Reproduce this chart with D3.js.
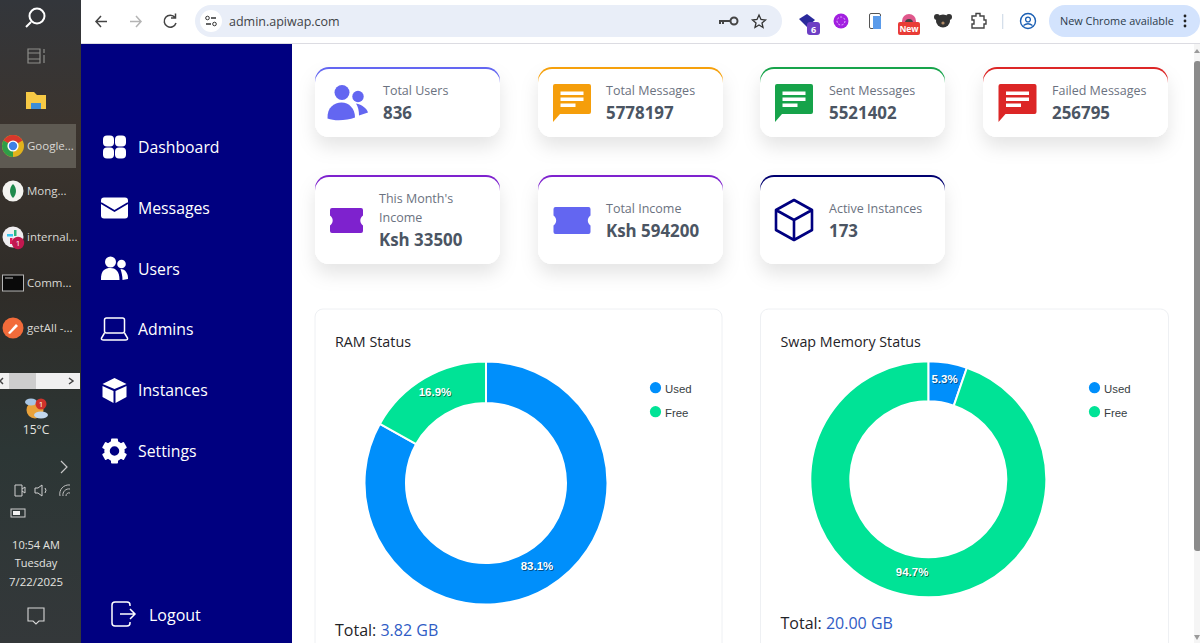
<!DOCTYPE html>
<html lang="en">
<head>
<meta charset="utf-8">
<script src="https://d3js.org/d3.v7.min.js"></script>
<style>
  html, body { margin: 0; padding: 0; background: #fff; overflow: hidden; }
  svg { display: block; }
  text { font-family: "Open Sans", "Noto Sans", sans-serif; }
</style>
</head>
<body>
<svg id="page" width="1200" height="643"></svg>

<script>
// values
const navLabels = ["Dashboard", "Messages", "Users", "Admins", "Instances", "Settings"];
const cardLabels = ["Total Users", "Total Messages", "Sent Messages", "Failed Messages", "This Month's|Income", "Total Income", "Active Instances"];
const cardValues = ["836", "5778197", "5521402", "256795", "Ksh 33500", "Ksh 594200", "173"];
const cardColors = ["#6366f1", "#f59e0b", "#16a34a", "#dc2626", "#7e22ce", "#6366f1", "#000080"];
const cardAccents = ["#6366f1", "#f5a00b", "#16a34a", "#dc2626", "#7e22ce", "#7e22ce", "#000070"];
const cardIcons = ["users", "msg", "msg", "msg", "ticket", "ticket", "box"];
const taskLabels = ["Google...", "Mong...", "internal...", "Comm...", "getAll -..."];

const sliceLabels = ["Used", "Free"];
const sliceColors = ["#008ffb", "#00e396"];
const ramValues = [83.1, 16.9];
const swapValues = [5.3, 94.7];
const ramTotal = "3.82 GB";
const swapTotal = "20.00 GB";

const svg = d3.select("#page");
const defs = svg.append("defs");

const shadow = defs.append("filter").attr("id", "cardShadow")
  .attr("x", "-20%").attr("y", "-20%").attr("width", "140%").attr("height", "180%");
shadow.append("feDropShadow").attr("dx", 0).attr("dy", 10).attr("stdDeviation", 9)
  .attr("flood-color", "#000").attr("flood-opacity", 0.1);

const grad = defs.append("linearGradient").attr("id", "taskbar")
  .attr("x1", 0).attr("y1", 0).attr("x2", 0).attr("y2", 1);
[[0, "#33363b"], [0.2, "#3b342e"], [0.45, "#2f2c28"], [0.7, "#2c3635"], [1, "#34383a"]]
  .forEach(d => grad.append("stop").attr("offset", d[0]).attr("stop-color", d[1]));

function label(g, x, y, str, size, fill, extra) {
  const t = g.append("text").attr("x", x).attr("y", y).text(str)
    .attr("font-size", size).attr("fill", fill);
  if (extra) Object.keys(extra).forEach(k => t.attr(k, extra[k]));
  return t;
}

function icon(x, y) {
  return svg.append("g").attr("transform", `translate(${x},${y})`);
}

/* ---------- windows taskbar ---------- */
svg.append("rect").attr("width", 81).attr("height", 643).attr("fill", "url(#taskbar)");
svg.append("rect").attr("y", 124).attr("width", 76).attr("height", 44).attr("fill", "#5e5a52");

let tb = icon(36, 17);
tb.append("circle").attr("cx", 1).attr("cy", -1).attr("r", 7.5).attr("fill", "none").attr("stroke", "#fff").attr("stroke-width", 2);
tb.append("line").attr("x1", -5).attr("y1", 5).attr("x2", -10).attr("y2", 10).attr("stroke", "#fff").attr("stroke-width", 2);

tb = icon(36, 56);
tb.append("path").attr("d", "M-8,-7H4V7H-8ZM-8,-3H4M-8,3H4M8,-7V-3M8,-1V7").attr("fill", "none").attr("stroke", "#8e8e8a").attr("stroke-width", 1.2);

tb = icon(36, 100);
tb.append("path").attr("d", "M-10,-8H-2L1,-5H10V9H-10Z").attr("fill", "#f6c945");
tb.append("rect").attr("x", -5).attr("y", 3).attr("width", 10).attr("height", 6).attr("fill", "#3d8ed6");

// chrome logo
tb = icon(13, 146);
tb.append("circle").attr("r", 11).attr("fill", "#e2b31d");
tb.append("path").attr("d", "M0,0L-9.5,-5.5A11,11 0 0 1 9.5,-5.5Z").attr("fill", "#d8372c");
tb.append("path").attr("d", "M0,0L-9.5,-5.5A11,11 0 0 0 0,11Z").attr("fill", "#2f9e48");
tb.append("circle").attr("r", 5.6).attr("fill", "#fff");
tb.append("circle").attr("r", 4.2).attr("fill", "#3f80e6");

tb = icon(13, 191);
tb.append("circle").attr("r", 10.5).attr("fill", "#f4f4f0");
tb.append("path").attr("d", "M0,-7C4,-3 4,3 0,7C-4,3 -4,-3 0,-7Z").attr("fill", "#1f8a4c");

tb = icon(13, 237);
tb.append("circle").attr("r", 10.5).attr("fill", "#f0eef0");
tb.append("rect").attr("x", -6).attr("y", -3).attr("width", 6).attr("height", 2.5).attr("fill", "#36c5f0");
tb.append("rect").attr("x", 1).attr("y", -7).attr("width", 2.5).attr("height", 6).attr("fill", "#2eb67d");
tb.append("rect").attr("x", -3).attr("y", 1).attr("width", 2.5).attr("height", 6).attr("fill", "#e01e5a");
tb.append("circle").attr("cx", 5).attr("cy", 6).attr("r", 6.2).attr("fill", "#c2184f");
label(tb, 5, 9, "1", 8, "#fff", { "text-anchor": "middle" });

tb = icon(13, 283);
tb.append("rect").attr("x", -10.5).attr("y", -8).attr("width", 21).attr("height", 16).attr("fill", "#0a0a0a").attr("stroke", "#b5b5b5");
tb.append("path").attr("d", "M-8,-5H0").attr("stroke", "#bbb");

tb = icon(13, 328);
tb.append("circle").attr("r", 10.5).attr("fill", "#f26b3a");
tb.append("path").attr("d", "M-5,5L3,-4L5,-2L-3,6Z").attr("fill", "#fff");

taskLabels.forEach((d, i) => {
  label(svg, 27, [150, 195, 241, 287, 332][i], d, 11.5, "#d9d8d4");
});

svg.append("rect").attr("y", 373).attr("width", 80).attr("height", 16).attr("fill", "#f0f0f0");
svg.append("rect").attr("x", 9).attr("y", 373).attr("width", 27).attr("height", 16).attr("fill", "#cdcdcd");
svg.append("path").attr("d", "M3,378L0,381L3,384M69,378L73,381L69,384").attr("fill", "none").attr("stroke", "#444").attr("stroke-width", 1.5);

tb = icon(36, 408);
tb.append("circle").attr("cx", -1).attr("cy", 2).attr("r", 8.5).attr("fill", "#e9a23b");
tb.append("ellipse").attr("cx", -5).attr("cy", -6).attr("rx", 6).attr("ry", 3.5).attr("fill", "#a9c6e4");
tb.append("ellipse").attr("cx", 5).attr("cy", 7).attr("rx", 7).attr("ry", 3.5).attr("fill", "#c3d8ee");
tb.append("circle").attr("cx", 5).attr("cy", -4).attr("r", 5.5).attr("fill", "#d0322b");
label(tb, 5, -1, "1", 8, "#fff", { "text-anchor": "middle" });
label(svg, 36, 434, "15°C", 12, "#e4e4e0", { "text-anchor": "middle" });

svg.append("path").attr("d", "M61,461L67,467L61,473").attr("fill", "none").attr("stroke", "#c8c8c8").attr("stroke-width", 1.2);
tb = icon(0, 490);
tb.append("path").attr("d", "M15,-5H22V6H15ZM22,-1L25,-3V3L22,1").attr("fill", "none").attr("stroke", "#d0d0d0");
tb.append("path").attr("d", "M35,-2H38L42,-5V6L38,3H35ZM45,-2Q47,0 45,3").attr("fill", "none").attr("stroke", "#d0d0d0");
tb.append("path").attr("d", "M60,6A9,9 0 0 1 70,-5M63,6A6,6 0 0 1 70,-1M66,6A3,3 0 0 1 70,3").attr("fill", "none").attr("stroke", "#c0c0c0");
svg.append("rect").attr("x", 11).attr("y", 509).attr("width", 14).attr("height", 8).attr("fill", "none").attr("stroke", "#d0d0d0");
svg.append("rect").attr("x", 13).attr("y", 511).attr("width", 7).attr("height", 4).attr("fill", "#f2f2f2");

label(svg, 36, 549, "10:54 AM", 11, "#e4e4e0", { "text-anchor": "middle" });
label(svg, 36, 567, "Tuesday", 11, "#e4e4e0", { "text-anchor": "middle" });
label(svg, 36, 586, "7/22/2025", 11.4, "#e4e4e0", { "text-anchor": "middle" });
svg.append("path").attr("d", "M28,608H44V621H39L36,624L33,621H28Z").attr("fill", "none").attr("stroke", "#d8d8d8").attr("stroke-width", 1.1);

/* ---------- browser toolbar ---------- */
svg.append("rect").attr("x", 81).attr("width", 1119).attr("height", 44).attr("fill", "#fff");
svg.append("rect").attr("x", 81).attr("y", 43).attr("width", 1119).attr("height", 1).attr("fill", "#dcdce2");

svg.append("path").attr("d", "M107,21.5H96M101,16L96,21.5L101,27").attr("fill", "none").attr("stroke", "#444").attr("stroke-width", 1.5);
svg.append("path").attr("d", "M130,21.5H141M136,16L141,21.5L136,27").attr("fill", "none").attr("stroke", "#b4b4b4").attr("stroke-width", 1.5);
svg.append("path").attr("d", "M175,17.5A6,6 0 1 0 176,23M175.5,13.5V18H171").attr("fill", "none").attr("stroke", "#444").attr("stroke-width", 1.5);

svg.append("rect").attr("x", 195).attr("y", 5).attr("width", 587).attr("height", 32).attr("rx", 16).attr("fill", "#e9eef8");
svg.append("circle").attr("cx", 211).attr("cy", 21).attr("r", 11).attr("fill", "#fff");
svg.append("path").attr("d", "M211,18H216M206,24H211").attr("stroke", "#333").attr("stroke-width", 1.3);
svg.append("circle").attr("cx", 207.5).attr("cy", 18).attr("r", 1.8).attr("fill", "none").attr("stroke", "#333");
svg.append("circle").attr("cx", 214.5).attr("cy", 24).attr("r", 1.8).attr("fill", "none").attr("stroke", "#333");
label(svg, 229, 26, "admin.apiwap.com", 12.5, "#3f4347");

tb = icon(729, 21);
tb.append("circle").attr("cx", 5).attr("r", 3.5).attr("fill", "none").attr("stroke", "#444").attr("stroke-width", 2);
tb.append("path").attr("d", "M1.5,0H-9V3M-6,0V3").attr("fill", "none").attr("stroke", "#444").attr("stroke-width", 2);
svg.append("path").attr("d", "M759,15L761,19.5L765.5,20L762,23L763,27.5L759,25L755,27.5L756,23L752.5,20L757,19.5Z").attr("fill", "none").attr("stroke", "#333").attr("stroke-width", 1.3);

tb = icon(808, 21);
tb.append("path").attr("d", "M-9,-2L-1,-7L7,-1L-1,6Z").attr("fill", "#2b2a9c");
tb.append("rect").attr("x", -1).attr("y", 1).attr("width", 13).attr("height", 13).attr("rx", 3).attr("fill", "#6d3fc4");
label(tb, 5.5, 12, "6", 9, "#fff", { "text-anchor": "middle", "font-weight": 700 });
tb = icon(841, 21);
tb.append("circle").attr("r", 7.5).attr("fill", "#a21fe0");
tb.append("circle").attr("r", 4).attr("fill", "none").attr("stroke", "#e6b8ff").attr("stroke-width", 1).attr("stroke-dasharray", "2 1.5");
tb = icon(875, 21);
tb.append("rect").attr("x", -5.5).attr("y", -7.5).attr("width", 11).attr("height", 15).attr("rx", 1.5).attr("fill", "#fff").attr("stroke", "#555");
tb.append("rect").attr("x", -2).attr("y", -5).attr("width", 8).attr("height", 13).attr("fill", "#5b9bea");
tb = icon(909, 21);
tb.append("path").attr("d", "M-7,0A7,7 0 0 1 7,0V2H-7Z").attr("fill", "#e0588c");
tb.append("path").attr("d", "M-4,2A4,4 0 0 1 4,2Z").attr("fill", "#444");
tb.append("rect").attr("x", -11).attr("y", 1).attr("width", 22).attr("height", 13).attr("rx", 2).attr("fill", "#e93c36");
label(tb, 0, 11, "New", 8.5, "#fff", { "text-anchor": "middle", "font-weight": 700 });
tb = icon(943, 21);
tb.append("circle").attr("cx", -6).attr("cy", -4).attr("r", 3).attr("fill", "#333");
tb.append("circle").attr("cx", 6).attr("cy", -4).attr("r", 3).attr("fill", "#333");
tb.append("ellipse").attr("rx", 7).attr("ry", 6.5).attr("cy", 0).attr("fill", "#333");
tb.append("circle").attr("cy", 2).attr("r", 1.6).attr("fill", "#b08a66");
svg.append("path").attr("d", "M972,16H976V13.5H980V16H984V20H986V24H984V28H972V24H974V20H972Z").attr("fill", "none").attr("stroke", "#444").attr("stroke-width", 1.4);
svg.append("rect").attr("x", 1002).attr("y", 14).attr("width", 1.3).attr("height", 15).attr("fill", "#d5dfea");
tb = icon(1028, 21);
tb.append("circle").attr("r", 7.5).attr("fill", "none").attr("stroke", "#1a5fb4").attr("stroke-width", 1.4);
tb.append("circle").attr("cy", -1.5).attr("r", 2.4).attr("fill", "none").attr("stroke", "#1a5fb4").attr("stroke-width", 1.3);
tb.append("path").attr("d", "M-4.5,4.5Q0,1 4.5,4.5").attr("fill", "none").attr("stroke", "#1a5fb4").attr("stroke-width", 1.3);

svg.append("rect").attr("x", 1049).attr("y", 5).attr("width", 151).attr("height", 32).attr("rx", 16).attr("fill", "#d3e3fd");
label(svg, 1060, 25, "New Chrome available", 10.9, "#2b3a4a");
[16, 21, 26].forEach(y => svg.append("circle").attr("cx", 1185).attr("cy", y).attr("r", 1.4).attr("fill", "#222"));

/* ---------- sidebar ---------- */
svg.append("rect").attr("x", 81).attr("y", 44).attr("width", 211).attr("height", 599).attr("fill", "#000080");

const navY = [147, 208, 269, 329, 390, 451];
navLabels.forEach((d, i) => {
  label(svg, 138, navY[i] + 6, d, 15.8, "#fff");
});

const navIcon = [
  g => { [[-6, -6], [6, -6], [-6, 6], [6, 6]].forEach(p => g.append("rect").attr("x", p[0] - 5.5).attr("y", p[1] - 5.5).attr("width", 11).attr("height", 11).attr("rx", 4).attr("fill", "#fff")); },
  g => {
    g.append("rect").attr("x", -13.5).attr("y", -10.5).attr("width", 27).attr("height", 21).attr("rx", 3).attr("fill", "#fff");
    g.append("path").attr("d", "M-13.5,-5L0,3L13.5,-5").attr("fill", "none").attr("stroke", "#000080").attr("stroke-width", 1.8);
  },
  g => {
    g.append("circle").attr("cx", -4).attr("cy", -7).attr("r", 5.5).attr("fill", "#fff");
    g.append("circle").attr("cx", 7).attr("cy", -5).attr("r", 4.3).attr("fill", "#fff");
    g.append("path").attr("d", "M-13.5,11C-14,1 -9,-1 -4,-1C1,-1 5,2 5,11Z").attr("fill", "#fff");
    g.append("path").attr("d", "M6,0C11,0 14,5 13.5,10L8,11C8,7 7,3 6,0Z").attr("fill", "#fff");
  },
  g => {
    g.append("rect").attr("x", -10).attr("y", -11).attr("width", 20).attr("height", 15).attr("rx", 2).attr("fill", "none").attr("stroke", "#fff").attr("stroke-width", 1.5);
    g.append("path").attr("d", "M-10,4L-13,9Q-13.5,11 -11,11H11Q13.5,11 13,9L10,4").attr("fill", "none").attr("stroke", "#fff").attr("stroke-width", 1.5);
  },
  g => {
    g.append("path").attr("d", "M0,-12L12,-6L0,-1L-12,-6Z").attr("fill", "#fff");
    g.append("path").attr("d", "M-12,-4L-1,1V13L-12,7Z").attr("fill", "#fff");
    g.append("path").attr("d", "M12,-4L1,1V13L12,7Z").attr("fill", "#fff");
  },
  g => {
    g.append("circle").attr("r", 7.5).attr("fill", "none").attr("stroke", "#fff").attr("stroke-width", 5.5);
    d3.range(6).forEach(i => g.append("rect").attr("x", -3.5).attr("y", -12.5).attr("width", 7).attr("height", 5).attr("rx", 1).attr("fill", "#fff").attr("transform", `rotate(${i * 60})`));
  }
];
navIcon.forEach((f, i) => f(icon(114.5, navY[i])));

tb = icon(123, 614);
tb.append("path").attr("d", "M7,-8V-9Q7,-12 4,-12H-8Q-11,-12 -11,-9V9Q-11,12 -8,12H4Q7,12 7,9V8").attr("fill", "none").attr("stroke", "#fff").attr("stroke-width", 1.5);
tb.append("path").attr("d", "M-3,0H12M7,-5L12,0L7,5").attr("fill", "none").attr("stroke", "#fff").attr("stroke-width", 1.5);
label(svg, 149, 621, "Logout", 16, "#fff");

/* ---------- scrollbar ---------- */
svg.append("rect").attr("x", 1194).attr("y", 44).attr("width", 6).attr("height", 599).attr("fill", "#f5f5f5");
svg.append("rect").attr("x", 1194).attr("y", 61).attr("width", 7).attr("height", 490).attr("rx", 3).attr("fill", "#8b8b8b");
svg.append("path").attr("d", "M1197,49L1200,53H1194Z").attr("fill", "#9a9a9a");
svg.append("path").attr("d", "M1197,640L1200,635H1194Z").attr("fill", "#9a9a9a");

/* ---------- stat cards ---------- */
const cardX = [315, 538, 760, 983, 315, 538, 760];
const cardY = [67, 67, 67, 67, 175, 175, 175];
const cardH = [70, 70, 70, 70, 89, 89, 89];
const cardW = 185;

function ticketPath(w, h) {
  return `M${-w + 2},${-h}H${w - 2}Q${w},${-h} ${w},${-h + 2}V-5A6,6 0 0 0 ${w},5V${h - 2}Q${w},${h} ${w - 2},${h}` +
    `H${-w + 2}Q${-w},${h} ${-w},${h - 2}V5A6,6 0 0 0 ${-w},-5V${-h + 2}Q${-w},${-h} ${-w + 2},${-h}Z`;
}

function drawIcon(g, kind, color, i) {
  if (kind === "users") {
    g.append("circle").attr("cx", -6).attr("cy", -13).attr("r", 7.5).attr("fill", color);
    g.append("circle").attr("cx", 10).attr("cy", -9).attr("r", 5.7).attr("fill", color);
    g.append("path").attr("d", "M-20.5,13C-21,2 -14,-3 -6.5,-3C1,-3 7,3 7,12C-1,15 -13,16 -20.5,13Z").attr("fill", color);
    g.append("path").attr("d", "M8,-2C14,-1 19,3 20,7L11,10C11,5 10,1 8,-2Z").attr("fill", color);
  } else if (kind === "msg") {
    g.append("path").attr("d", "M-19,-19Q-19,-21 -17,-21H17Q19,-21 19,-19V7Q19,9 17,9H-12L-19,17Z").attr("fill", color);
    [[-11.5, -13.5, 23], [-11.5, -7.5, 23], [-11.5, -1.5, 15]].forEach(b =>
      g.append("rect").attr("x", b[0]).attr("y", b[1]).attr("width", b[2]).attr("height", 3.5).attr("fill", "#fff"));
  } else if (kind === "ticket") {
    const w = i === 4 ? 16.5 : 18.5;
    const h = i === 4 ? 12.5 : 13.5;
    g.append("path").attr("d", ticketPath(w, h)).attr("fill", color);
  } else {
    g.append("path").attr("d", "M0,-20L18,-10V10L0,20L-18,10V-10ZM-18,-10L0,0L18,-10M0,0V20")
      .attr("fill", "none").attr("stroke", color).attr("stroke-width", 2.6).attr("stroke-linejoin", "round");
  }
}

const cardIconPos = [[348, 105.5], [572, 105], [794, 105], [1017.5, 105], [346.5, 220.5], [572, 220.5], [794, 220]];
const cardTextX = [383, 606, 829, 1052, 379, 606, 829];
const cardLabelY = [95, 95, 95, 95, 203, 213, 213];
const cardValueY = [119, 119, 119, 119, 246, 237, 237];

cardLabels.forEach((d, i) => {
  const g = svg.append("g");
  g.append("rect").attr("x", cardX[i]).attr("y", cardY[i]).attr("width", cardW).attr("height", cardH[i])
    .attr("rx", 14).attr("fill", "#fff").attr("filter", "url(#cardShadow)");
  g.append("rect").attr("x", cardX[i]).attr("y", cardY[i]).attr("width", cardW).attr("height", 30)
    .attr("rx", 14).attr("fill", cardAccents[i]);
  g.append("rect").attr("x", cardX[i]).attr("y", cardY[i] + 2).attr("width", cardW).attr("height", cardH[i] - 2)
    .attr("rx", 14).attr("fill", "#fff");
  drawIcon(icon(cardIconPos[i][0], cardIconPos[i][1]), cardIcons[i], cardColors[i], i);
  d.split("|").forEach((line, j) => {
    label(g, cardTextX[i], cardLabelY[i] + j * 19, line, 12.5, "#6b7280");
  });
  label(g, cardTextX[i], cardValueY[i], cardValues[i], 16.9, "#4b5563", { "font-weight": 700 });
});

/* ---------- memory panels ---------- */
function drawPanel(opts) {
  const g = svg.append("g");
  g.append("rect").attr("x", opts.x).attr("y", 309).attr("width", opts.w).attr("height", 360)
    .attr("rx", 8).attr("fill", "#fff").attr("stroke", "#eef0f3");
  label(g, opts.x + opts.titleDx, 347, opts.title, 14.3, "#1f2328");

  const pie = d3.pie().sort(null)(opts.values);
  const arc = d3.arc().innerRadius(opts.inner).outerRadius(opts.outer);
  const chart = g.append("g").attr("transform", `translate(${opts.cx},${opts.cy})`);
  chart.selectAll("path").data(pie).join("path")
    .attr("d", arc)
    .attr("fill", (d, i) => sliceColors[i])
    .attr("stroke", "#fff").attr("stroke-width", 2);

  const fmt = d => d.value.toFixed(1) + "%";
  chart.selectAll("text.shade").data(pie).join("text").attr("class", "shade")
    .attr("x", d => arc.centroid(d)[0] + 1).attr("y", d => arc.centroid(d)[1] + 1)
    .attr("text-anchor", "middle").attr("font-size", 11.5).attr("font-weight", 700)
    .style("font-family", "'Liberation Sans', Arial, sans-serif")
    .attr("fill", "#000").attr("opacity", 0.45).text(fmt);
  chart.selectAll("text.val").data(pie).join("text").attr("class", "val")
    .attr("x", d => arc.centroid(d)[0]).attr("y", d => arc.centroid(d)[1])
    .attr("text-anchor", "middle").attr("font-size", 11.5).attr("font-weight", 700)
    .style("font-family", "'Liberation Sans', Arial, sans-serif")
    .attr("fill", "#fff").text(fmt);

  sliceLabels.forEach((d, i) => {
    const y = 387.7 + i * 24;
    g.append("circle").attr("cx", opts.legendX).attr("cy", y).attr("r", 5.6).attr("fill", sliceColors[i]);
    label(g, opts.legendX + 9.5, y + 5, d, 11.4, "#373d3f").style("font-family", "'Liberation Sans', Arial, sans-serif");
  });

  const total = label(g, opts.x + opts.titleDx, opts.totalY, "Total: ", 16, "#1f2328");
  total.append("tspan").attr("fill", "#2f5cc5").text(opts.total);
}

drawPanel({ x: 315, w: 407, titleDx: 20, title: "RAM Status", values: ramValues, cx: 486, cy: 483, outer: 121.5, inner: 80, legendX: 655.5, total: ramTotal, totalY: 636 });
drawPanel({ x: 760.5, w: 408, titleDx: 20, title: "Swap Memory Status", values: swapValues, cx: 928.3, cy: 479.3, outer: 118, inner: 78, legendX: 1094.5, total: swapTotal, totalY: 629 });
</script>
</body>
</html>
